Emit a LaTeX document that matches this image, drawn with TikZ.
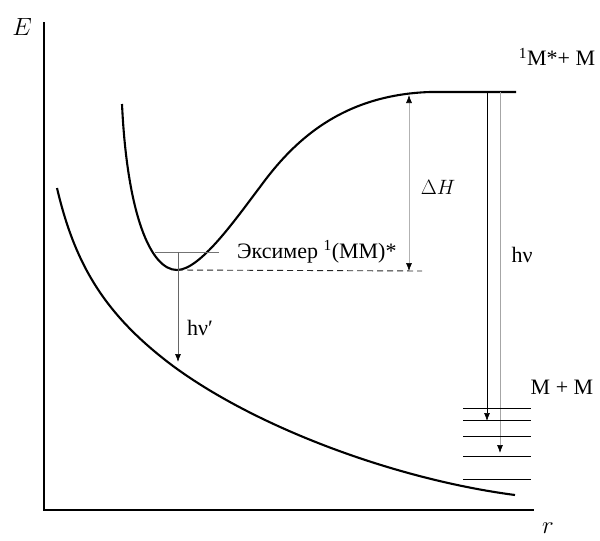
\documentclass[tikz,border=0pt]{standalone}
\usepackage{fontspec}
\setmainfont{Liberation Serif}
\usetikzlibrary{arrows.meta, positioning}

\begin{document}
\begin{tikzpicture}[
    x=1pt, y=-1pt,
    axis/.style={line width=1.3pt},
    curve/.style={line width=2.1pt, line join=round},
    level/.style={line width=1pt},
    thin line/.style={line width=0.6pt, draw=black!55},
    photon/.style={-{Latex[length=8pt, width=6pt]}, line width=0.7pt},
    lbl/.style={inner sep=0pt, font=\fontsize{22}{22}\selectfont}
]
\useasboundingbox (0,0) rectangle (600,541);

% 1. Axes
\coordinate (origin) at (44,510);
\coordinate (ytop) at (44,22);
\coordinate (xend) at (534,510);
\draw[axis] (ytop) -- (origin) -- (xend);
\node[inner sep=0pt, font=\fontsize{34}{34}\selectfont] (elabel) at (22,27) {$E$};
\node[inner sep=0pt, font=\fontsize{34}{34}\selectfont] (rlabel) at (548,528) {$r$};

% 2. Repulsive ground-state curve
\draw[curve] (57,188) .. controls (75,265) and (105,315) .. (173,366)
                      .. controls (260,430) and (400,480) .. (515,495);

% 3. Excimer curve with its plateau
\coordinate (emin) at (177,270);
\draw[curve] (122,104) .. controls (127,212) and (150,270) .. (emin)
                       .. controls (200,270) and (235,220) .. (260,187)
                       .. controls (292,143) and (340,95) .. (430,92)
                       -- (516,92);

% 4. Vibrational level and dissociation energy
\coordinate (vl) at (155,252);
\coordinate (vr) at (219,252);
\draw[thin line] (vl) -- (vr);
\coordinate (dashend) at (422,271);
\draw[dashed, line width=0.9pt, draw=black!85, dash pattern=on 6pt off 4pt] (emin) -- (dashend);
\coordinate (dhlow) at (409,271);
\coordinate (dhtop) at (409,95);
\draw[thin line, draw=black!30, {Latex[length=8pt, width=6pt, black]}-{Latex[length=8pt, width=6pt, black]}] (dhlow) -- (dhtop);
\node[lbl] (dh) at (438,187) {$\Delta H$};
\node[lbl, anchor=west] (exc) at (237,252) {Эксимер \textsuperscript{1}(MM)*};

% 5. Emission arrows
\coordinate (exstart) at (178,252);
\coordinate (exend) at (178,362);
\draw[photon, draw=black!60, -{Latex[length=8pt, width=6pt, black]}] (exstart) -- (exend);
\node[lbl] (hvex) at (200,328) {hν′};

\coordinate (mtop) at (487,92);
\coordinate (mlow) at (487,421);
\draw[photon] (mtop) -- (mlow);
\coordinate (gtop) at (500,92);
\coordinate (glow) at (500,453);
\draw[photon, draw=black!35, -{Latex[length=8pt, width=6pt, black]}] (gtop) -- (glow);
\node[lbl] (hvm) at (522,255) {hν};

% 6. Ground-state levels
\foreach \ly in {408,420,436,456,479}
    \draw[level] (463,\ly) -- (531,\ly);
\node[lbl] (mm) at (562,387) {M + M};
\node[lbl] (mstar) at (557,57) {\textsuperscript{1}M*+ M};

\end{tikzpicture}
\end{document}
